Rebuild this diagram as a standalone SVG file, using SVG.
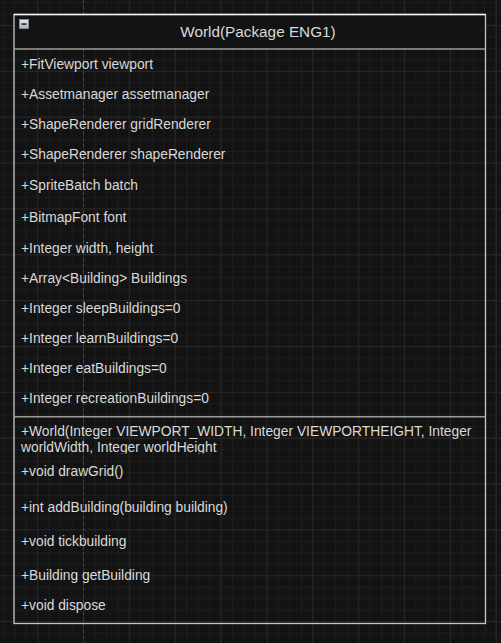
<svg xmlns="http://www.w3.org/2000/svg" width="501" height="643" viewBox="0 0 501 643">
  <style>
    .member { font-family: "Liberation Sans", Arial, sans-serif; font-size: 13.8px; fill: #d9d9d9; }
    .title { font-family: "Liberation Sans", Arial, sans-serif; font-size: 15.3px; fill: #d9d9d9; }
    .edge { stroke: #c6c6c6; stroke-width: 1.3; fill: none; }
    .divider { stroke: #9c9c9c; stroke-width: 1.6; }
  </style>
  <defs>
    <pattern id="minorGrid" patternUnits="userSpaceOnUse" x="83" y="25" width="11.4625" height="11.4625">
      <rect x="0" y="0" width="1" height="11.4625" fill="#1c1c1c"/>
      <rect x="0" y="0" width="11.4625" height="1" fill="#1c1c1c"/>
    </pattern>
    <pattern id="majorGrid" patternUnits="userSpaceOnUse" x="83" y="25" width="45.85" height="45.85">
      <rect x="0" y="0" width="1" height="45.85" fill="#262626"/>
      <rect x="0" y="0" width="45.85" height="1" fill="#262626"/>
    </pattern>
    <linearGradient id="iconFill" x1="0" y1="0" x2="0" y2="1">
      <stop offset="0" stop-color="#e6e9f0"/>
      <stop offset="1" stop-color="#a9b1c2"/>
    </linearGradient>
    <clipPath id="ctorClip">
      <rect x="15" y="418" width="470" height="35.5"/>
    </clipPath>
  </defs>

  <!-- canvas and grid -->
  <rect x="0" y="0" width="501" height="643" fill="#131313"/>
  <rect x="0" y="0" width="501" height="643" fill="url(#minorGrid)"/>
  <rect x="0" y="0" width="501" height="643" fill="url(#majorGrid)"/>
  <line x1="83.5" y1="0" x2="83.5" y2="643" stroke="#474747" stroke-width="1" stroke-dasharray="3 3"/>

  <g id="connectors"/>

  <g id="world">
    <!-- header -->
    <rect x="14" y="14.5" width="471.5" height="34.5" fill="#131313"/>
    <rect class="edge" x="14" y="14.5" width="471.5" height="609"/>
    <line x1="14" y1="14.5" x2="485.5" y2="14.5" stroke="#f2f2f2" stroke-width="1.3"/>
    <line class="divider" x1="14" y1="49" x2="485.5" y2="49"/>
    <line class="divider" x1="14" y1="416.7" x2="485.5" y2="416.7"/>

    <!-- collapse toggle -->
    <rect x="19.5" y="19.5" width="9" height="9" fill="url(#iconFill)" stroke="#8a93a6" stroke-width="0.8"/>
    <rect x="21.5" y="23.2" width="5" height="1.8" fill="#3a3a3a"/>

    <text class="title" x="258" y="37" text-anchor="middle">World(Package ENG1)</text>

    <!-- attributes -->
    <text class="member" x="21" y="69">+FitViewport viewport</text>
    <text class="member" x="21" y="99">+Assetmanager assetmanager</text>
    <text class="member" x="21" y="129">+ShapeRenderer gridRenderer</text>
    <text class="member" x="21" y="159">+ShapeRenderer shapeRenderer</text>
    <text class="member" x="21" y="190">+SpriteBatch batch</text>
    <text class="member" x="21" y="222">+BitmapFont font</text>
    <text class="member" x="21" y="253">+Integer width, height</text>
    <text class="member" x="21" y="283">+Array&lt;Building&gt; Buildings</text>
    <text class="member" x="21" y="313">+Integer sleepBuildings=0</text>
    <text class="member" x="21" y="343">+Integer learnBuildings=0</text>
    <text class="member" x="21" y="373">+Integer eatBuildings=0</text>
    <text class="member" x="21" y="403">+Integer recreationBuildings=0</text>

    <!-- operations -->
    <g clip-path="url(#ctorClip)">
      <text class="member" x="21" y="436">+World(Integer VIEWPORT_WIDTH, Integer VIEWPORTHEIGHT, Integer</text>
      <text class="member" x="21" y="451.7">worldWidth, Integer worldHeight</text>
    </g>
    <text class="member" x="21" y="475.5">+void drawGrid()</text>
    <text class="member" x="21" y="512">+int addBuilding(building building)</text>
    <text class="member" x="21" y="546">+void tickbuilding</text>
    <text class="member" x="21" y="579.5">+Building getBuilding</text>
    <text class="member" x="21" y="610">+void dispose</text>
  </g>
</svg>
